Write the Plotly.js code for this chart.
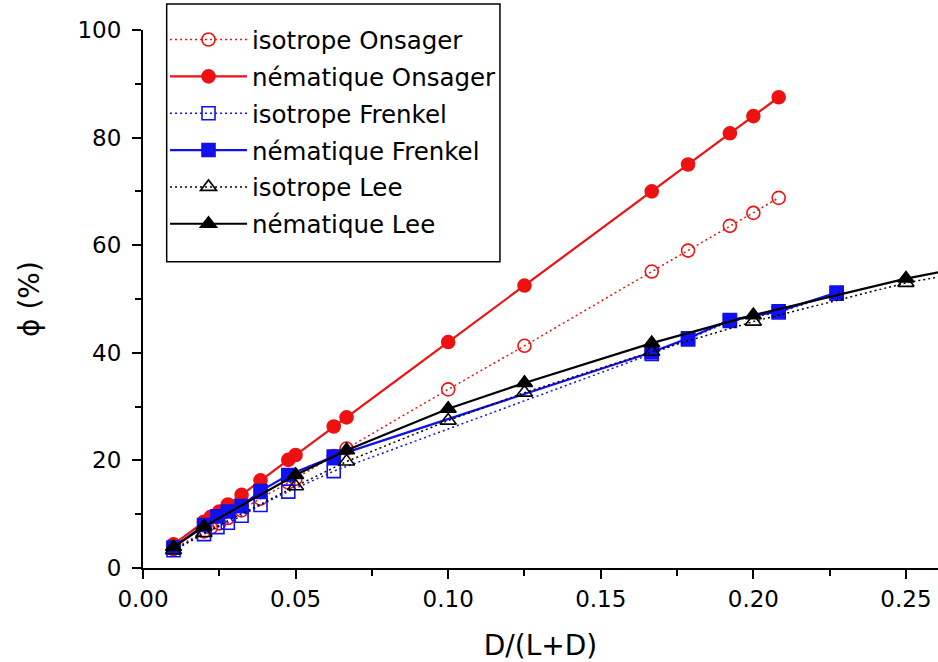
<!DOCTYPE html>
<html>
<head>
<meta charset="utf-8">
<script src="https://cdn.plot.ly/plotly-3.0.1.min.js"></script>
<style>html,body{margin:0;padding:0;background:#fff;}#chart{width:938px;height:662px;}</style>
</head>
<body>
<div id="chart"></div>
<script>
// ---- data ----
const seriesNames = ["isotrope Onsager", "nématique Onsager", "isotrope Frenkel", "nématique Frenkel", "isotrope Lee", "nématique Lee"];

const xOnsager = [0.01, 0.02, 0.0222, 0.025, 0.0278, 0.0323, 0.0385, 0.0476, 0.05, 0.0625, 0.0667, 0.1, 0.125, 0.1667, 0.1786, 0.1923, 0.2, 0.2083];
const yIsoOnsager = [3.5, 6.8, 7.5, 8.3, 9.3, 10.7, 12.9, 15.9, 16.6, 20.8, 22.2, 33.2, 41.3, 55.1, 59.0, 63.6, 66.0, 68.8];
const yNemOnsager = [4.4, 8.6, 9.5, 10.5, 11.8, 13.6, 16.3, 20.1, 21.0, 26.3, 28.0, 42.0, 52.5, 70.0, 75.0, 80.8, 84.0, 87.5];

const xFrenkel = [0.01, 0.02, 0.0244, 0.0278, 0.0323, 0.0385, 0.0476, 0.0625, 0.1667, 0.1786, 0.1923, 0.2083, 0.2273];
const yIsoFrenkel = [3.3, 6.3, 7.6, 8.4, 9.7, 11.7, 14.2, 18.0, 39.8, 42.5, 45.9, 47.5, 51.0];
const yNemFrenkel = [3.8, 8.0, 9.6, 10.5, 11.5, 14.3, 17.3, 20.7, 40.1, 42.7, 46.1, 47.7, 51.2];

const xLee = [0.01, 0.02, 0.05, 0.0667, 0.1, 0.125, 0.1667, 0.2, 0.25, 0.3333];
const yIsoLee = [3.3, 6.5, 15.2, 19.8, 27.4, 32.6, 40.2, 45.8, 53.0, 61.5];
const yNemLee = [3.9, 7.7, 17.3, 21.9, 29.6, 34.4, 41.8, 47.0, 53.8, 63.0];

const xTickVals = [0, 0.05, 0.10, 0.15, 0.20, 0.25];
const yTickVals = [0, 20, 40, 60, 80, 100];

// ---- styling ----
const RED = "#ee1111", BLUE = "#1111ee", BLACK = "#000000";
const FONT = "DejaVu Sans, Verdana, sans-serif";
const dotted = "2px,3px";

function tr(name, x, y, color, dash, symbol, width, grp) {
  return {
    type: "scatter", mode: "lines+markers", name: name, x: x, y: y,
    legendgroup: grp,
    line: {color: color, width: width, dash: dash},
    marker: {symbol: symbol, size: symbol.indexOf("triangle") === 0 ? 14 : 13, color: color,
             line: {color: color, width: 1.6}},
    cliponaxis: true
  };
}

const traces = [
  tr(seriesNames[0], xOnsager, yIsoOnsager, RED, dotted, "circle-open", 1.5, "g0"),
  tr(seriesNames[1], xOnsager, yNemOnsager, RED, "solid", "circle", 2.2, "g1"),
  tr(seriesNames[2], xFrenkel, yIsoFrenkel, BLUE, dotted, "square-open", 1.5, "g2"),
  tr(seriesNames[3], xFrenkel, yNemFrenkel, BLUE, "solid", "square", 2.2, "g3"),
  tr(seriesNames[4], xLee, yIsoLee, BLACK, dotted, "triangle-up-open", 1.5, "g4"),
  tr(seriesNames[5], xLee, yNemLee, BLACK, "solid", "triangle-up", 2.2, "g5")
];

const layout = {
  width: 938, height: 662,
  margin: {l: 143, r: 0, t: 30, b: 94, pad: 0},
  paper_bgcolor: "#ffffff", plot_bgcolor: "#ffffff",
  font: {family: FONT, color: "#000", size: 23},
  showlegend: true,
  legend: {
    x: 0.0277, y: 1.024, xanchor: "left", yanchor: "top",
    bgcolor: "rgba(0,0,0,0)", borderwidth: 0,
    font: {family: FONT, size: 24.5, color: "#000"},
    itemwidth: 77, tracegroupgap: 2, traceorder: "grouped"
  },
  shapes: [{
    type: "rect", xref: "paper", yref: "paper", layer: "below",
    x0: 0.0298, x1: 0.449, y0: 0.5693, y1: 1.0483,
    line: {color: "#000", width: 1.5}, fillcolor: "#ffffff"
  }],
  xaxis: {
    range: [0, 0.2605], tickvals: xTickVals, tickformat: ".2f",
    showline: true, linecolor: "#000", linewidth: 2, mirror: false,
    ticks: "outside", ticklen: 9, tickwidth: 2, tickcolor: "#000",
    minor: {dtick: 0.025, tick0: 0, ticks: "outside", ticklen: 6, tickwidth: 2, tickcolor: "#000"},
    showgrid: false, zeroline: false,
    tickfont: {family: FONT, size: 23},
    title: {text: "D/(L+D)", font: {family: FONT, size: 28}, standoff: 26},
    automargin: false
  },
  yaxis: {
    range: [0, 100], tickvals: yTickVals,
    showline: true, linecolor: "#000", linewidth: 2, mirror: false,
    ticks: "outside", ticklen: 9, tickwidth: 2, tickcolor: "#000",
    minor: {dtick: 10, tick0: 0, ticks: "outside", ticklen: 6, tickwidth: 2, tickcolor: "#000"},
    showgrid: false, zeroline: false,
    ticklabelstandoff: 6,
    tickfont: {family: FONT, size: 23},
    title: {text: "ϕ (%)", font: {family: FONT, size: 28}, standoff: 30},
    automargin: false
  }
};

Plotly.newPlot("chart", traces, layout, {displayModeBar: false, staticPlot: true});
</script>
</body>
</html>
